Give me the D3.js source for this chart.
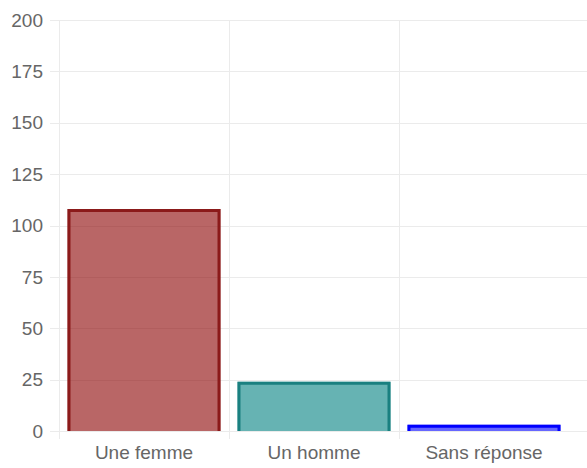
<!DOCTYPE html>
<html>
<head>
<meta charset="utf-8">
<script src="https://cdn.jsdelivr.net/npm/d3@7"></script>
<style>
  body { margin: 0; background: #fff; }
  text { font-family: "Liberation Sans", Arial, sans-serif; }
</style>
</head>
<body>
<div class="graph-center"></div>
<script>
// data
let categories = ["Une femme", "Un homme", "Sans réponse"]
let values = [108, 24, 3]
let yTicks = [0, 25, 50, 75, 100, 125, 150, 175, 200]
let fills = ["rgba(139,0,0,0.6)", "rgba(0,128,128,0.6)", "rgba(0,0,255,0.6)"]
let borders = ["#8b1a1a", "#1a8080", "#0000ff"]

let svgWidth = 587
let svgHeight = 468

let margin = { left: 59, right: 18, top: 20, bottom: 37 }
let width = svgWidth - margin.left - margin.right
let height = svgHeight - margin.top - margin.bottom

let svg = d3.select('.graph-center')
    .append('svg')
    .attr('width', svgWidth)
    .attr('height', svgHeight)
    .append('g')
    .attr('transform', `translate(${margin.left},${margin.top})`)

let xScale = d3.scaleBand()
    .domain(categories)
    .range([0, width])
    .paddingInner(0)
    .paddingOuter(0)

let yScale = d3.scaleLinear()
    .domain([0, 200])
    .range([height, 0])

// horizontal grid
svg.append('g')
    .selectAll('line')
    .data(yTicks)
    .join('line')
    .attr('x1', -9)
    .attr('x2', width + margin.right)
    .attr('y1', d => Math.round(yScale(d)) + 0.5)
    .attr('y2', d => Math.round(yScale(d)) + 0.5)
    .attr('stroke', '#ebebeb')
    .attr('stroke-width', 1)

// vertical grid
let vLines = categories.map(c => xScale(c))
svg.append('g')
    .selectAll('line')
    .data(vLines)
    .join('line')
    .attr('x1', d => Math.round(d) + 0.5)
    .attr('x2', d => Math.round(d) + 0.5)
    .attr('y1', 0)
    .attr('y2', height + 8)
    .attr('stroke', '#ebebeb')
    .attr('stroke-width', 1)

// bars
let bw = xScale.bandwidth() * 0.9
let bw3 = 3
svg.append('g')
    .selectAll('path')
    .data(categories)
    .join('path')
    .attr('d', (d, i) => {
        let x0 = xScale(d) + (xScale.bandwidth() - bw) / 2
        let y0 = yScale(values[i])
        return `M${x0},${height}V${y0}H${x0 + bw}V${height}Z`
    })
    .attr('fill', (d, i) => fills[i])
    .attr('stroke', 'none')

// borders (inside, bottom skipped)
svg.append('g')
    .selectAll('path')
    .data(categories)
    .join('path')
    .attr('d', (d, i) => {
        let x0 = xScale(d) + (xScale.bandwidth() - bw) / 2 + bw3 / 2
        let x1 = x0 + bw - bw3
        let y0 = yScale(values[i]) + bw3 / 2
        return `M${x0},${height}V${y0}H${x1}V${height}`
    })
    .attr('fill', 'none')
    .attr('stroke', (d, i) => borders[i])
    .attr('stroke-width', bw3)

// y labels
svg.append('g')
    .selectAll('text')
    .data(yTicks)
    .join('text')
    .attr('x', -16)
    .attr('y', d => yScale(d))
    .attr('dy', '0.35em')
    .attr('text-anchor', 'end')
    .attr('fill', '#666')
    .style('font-size', '19px')
    .text(d => d)

// x labels
svg.append('g')
    .selectAll('text')
    .data(categories)
    .join('text')
    .attr('x', d => xScale(d) + xScale.bandwidth() / 2)
    .attr('y', height + 28)
    .attr('text-anchor', 'middle')
    .attr('fill', '#666')
    .style('font-size', '19px')
    .text(d => d)
</script>
</body>
</html>
